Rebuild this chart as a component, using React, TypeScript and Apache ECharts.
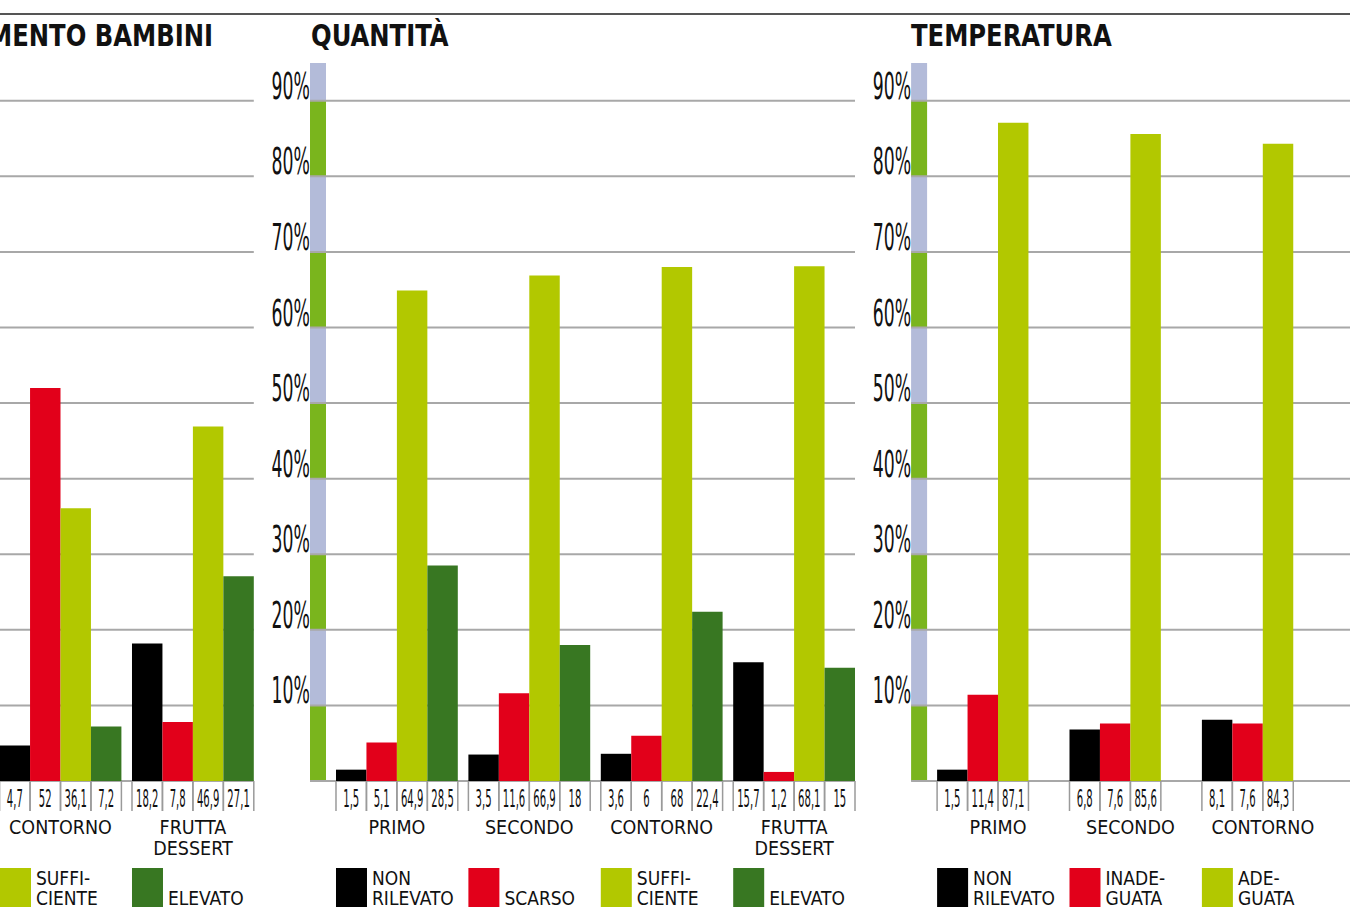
import React, { useEffect, useRef } from 'react';
import * as echarts from 'echarts';

const NARROW = "'Liberation Sans Narrow', 'DejaVu Sans Condensed', 'Arial Narrow', sans-serif";

const BLACK = '#000000';
const RED = '#e2001a';
const LIME = '#b2c800';
const GREEN = '#387722';
const STRIPE_GREEN = '#7ab51d';
const STRIPE_LAV = '#b3bbd9';
const GRID_GRAY = '#a8a8a8';
const BOX_GRAY = '#9a9a9a';
const INK = '#111111';

// ---- data: GRADIMENTO BAMBINI (cropped panel, only last two groups visible)
const gradCats = ['CONTORNO', 'FRUTTA\nDESSERT'];
const gradNonRilevato = [4.7, 18.2];
const gradScarso = [52, 7.8];
const gradSufficiente = [36.1, 46.9];
const gradElevato = [7.2, 27.1];

// ---- data: QUANTITÀ
const quantCats = ['PRIMO', 'SECONDO', 'CONTORNO', 'FRUTTA\nDESSERT'];
const quantNonRilevato = [1.5, 3.5, 3.6, 15.7];
const quantScarso = [5.1, 11.6, 6, 1.2];
const quantSufficiente = [64.9, 66.9, 68, 68.1];
const quantElevato = [28.5, 18, 22.4, 15];

// ---- data: TEMPERATURA
const tempCats = ['PRIMO', 'SECONDO', 'CONTORNO'];
const tempNonRilevato = [1.5, 6.8, 8.1];
const tempInadeguata = [11.4, 7.6, 7.6];
const tempAdeguata = [87.1, 85.6, 84.3];

// ---- axis
const yTicks = [0, 10, 20, 30, 40, 50, 60, 70, 80, 90];
const yTickLabels = ['', '10%', '20%', '30%', '40%', '50%', '60%', '70%', '80%', '90%'];
const stripeBreaks = [0, 10, 20, 30, 40, 50, 60, 70, 80, 90, 95];
const Y_MAX = 95;

const legendText: Record<string, string> = {
  'NON RILEVATO': 'NON\nRILEVATO',
  'SCARSO': '\nSCARSO',
  'SUFFICIENTE': 'SUFFI-\nCIENTE',
  'ELEVATO': '\nELEVATO',
  'INADEGUATA': 'INADE-\nGUATA',
  'ADEGUATA': 'ADE-\nGUATA',
};

// ---- layout
const BAND = 132.4;
const GAP = 0.08;
const SLOTS = 4;
const GRID_TOP = 63;
const GRID_H = 718;
const STRIPE_OFF = 20.7;
const STRIPE_W = 16;

type S = { name: string; color: string; data: number[] };
type Panel = {
  title: string; titleX: number; titleAlign: string;
  gridLeft: number; hidden: number; cats: string[]; series: S[];
  lineEnd: 'bars' | 'edge'; axisDecor: boolean;
};

const panels: Panel[] = [
  {
    title: 'GRADIMENTO BAMBINI', titleX: 213, titleAlign: 'right',
    gridLeft: -5.7, hidden: 2, cats: gradCats, lineEnd: 'bars', axisDecor: false,
    series: [
      { name: 'NON RILEVATO', color: BLACK, data: gradNonRilevato },
      { name: 'SCARSO', color: RED, data: gradScarso },
      { name: 'SUFFICIENTE', color: LIME, data: gradSufficiente },
      { name: 'ELEVATO', color: GREEN, data: gradElevato },
    ],
  },
  {
    title: 'QUANTITÀ', titleX: 311, titleAlign: 'left',
    gridLeft: 330.7, hidden: 0, cats: quantCats, lineEnd: 'bars', axisDecor: true,
    series: [
      { name: 'NON RILEVATO', color: BLACK, data: quantNonRilevato },
      { name: 'SCARSO', color: RED, data: quantScarso },
      { name: 'SUFFICIENTE', color: LIME, data: quantSufficiente },
      { name: 'ELEVATO', color: GREEN, data: quantElevato },
    ],
  },
  {
    title: 'TEMPERATURA', titleX: 911, titleAlign: 'left',
    gridLeft: 931.8, hidden: 0, cats: tempCats, lineEnd: 'edge', axisDecor: true,
    series: [
      { name: 'NON RILEVATO', color: BLACK, data: tempNonRilevato },
      { name: 'INADEGUATA', color: RED, data: tempInadeguata },
      { name: 'ADEGUATA', color: LIME, data: tempAdeguata },
    ],
  },
];

const fmt = (v: number) => String(v).replace('.', ',');

function textEl(
  x: number, y: number, text: string, size: number, align: string,
  scaleX: number, scaleY: number, weight = 'normal',
) {
  return {
    type: 'text', x, y, scaleX, scaleY,
    style: {
      text, fontFamily: NARROW, fontSize: size, fontWeight: weight,
      fill: INK, textFill: INK,
      align, textAlign: align, verticalAlign: 'middle', textVerticalAlign: 'middle',
    },
  };
}

function buildOption() {
  const grid = panels.map(p => ({
    left: p.gridLeft, top: GRID_TOP, width: p.cats.length * BAND, height: GRID_H,
    containLabel: false, outerBoundsMode: 'none',
  }));
  const xAxis = panels.map((p, i) => ({
    type: 'category', gridIndex: i, data: p.cats,
    axisLine: { show: false }, axisTick: { show: false }, splitLine: { show: false },
    axisLabel: {
      interval: 0, margin: 36, fontFamily: NARROW, fontSize: 19.5, lineHeight: 21, color: INK,
    },
  }));
  const yAxis = panels.map((p, i) => ({
    type: 'value', gridIndex: i, min: 0, max: Y_MAX, show: false, splitLine: { show: false },
  }));

  const series: any[] = [];
  const legend: any[] = [];

  panels.forEach((p, i) => {
    const fullLeft = p.gridLeft - p.hidden * BAND;
    const x1 = fullLeft - STRIPE_OFF;

    // stripe along the value axis
    if (p.axisDecor) {
      series.push({
        type: 'custom', xAxisIndex: i, yAxisIndex: i, silent: true, clip: false, z: 1,
        encode: { x: 0, y: [1, 2] },
        data: stripeBreaks.slice(0, -1).map((lo, k) => [0, lo, stripeBreaks[k + 1]]),
        renderItem: (params: any, api: any) => {
          const yLo = api.coord([0, api.value(1)])[1];
          const yHi = api.coord([0, api.value(2)])[1];
          return {
            type: 'rect',
            shape: { x: x1, y: yHi, width: STRIPE_W, height: yLo - yHi },
            style: { fill: params.dataIndex % 2 === 0 ? STRIPE_GREEN : STRIPE_LAV },
          };
        },
      });
    }

    // grid lines + tick labels
    series.push({
      type: 'custom', xAxisIndex: i, yAxisIndex: i, silent: true, clip: false, z: 2,
      encode: { x: 0, y: 1 },
      data: yTicks.map((v, k) => [0, v, k]),
      renderItem: (params: any, api: any) => {
        const y = api.coord([0, api.value(1)])[1];
        const cs = params.coordSys;
        const x2 = p.lineEnd === 'edge' ? api.getWidth() : cs.x + cs.width - GAP / 2 * BAND;
        const children: any[] = [
          { type: 'line', shape: { x1, y1: y, x2, y2: y }, style: { stroke: GRID_GRAY, lineWidth: 2 } },
        ];
        const lab = yTickLabels[api.value(2)];
        if (p.axisDecor && lab) {
          children.push(textEl(x1, y - 14.5, lab, 24, 'right', 0.8, 1.55));
        }
        return { type: 'group', children };
      },
    });

    // bars
    p.series.forEach(s => {
      series.push({
        type: 'bar', name: s.name, xAxisIndex: i, yAxisIndex: i, data: s.data,
        barGap: '0%', barCategoryGap: `${GAP * 100}%`, z: 3, silent: true,
        itemStyle: { color: s.color }, emphasis: { disabled: true },
      });
    });
    // keep an empty fourth slot so that three-bar groups sit left-aligned like the others
    for (let k = p.series.length; k < SLOTS; k++) {
      series.push({
        type: 'bar', name: 'slot' + k, xAxisIndex: i, yAxisIndex: i, data: [],
        barGap: '0%', barCategoryGap: `${GAP * 100}%`, silent: true,
      });
    }

    // value boxes under the axis
    const boxData: number[][] = [];
    p.cats.forEach((_, ci) => p.series.forEach((s, si) => boxData.push([ci, s.data[ci], si])));
    series.push({
      type: 'custom', xAxisIndex: i, yAxisIndex: i, silent: true, clip: false, z: 4,
      encode: { x: 0, y: 1 },
      data: boxData,
      renderItem: (params: any, api: any) => {
        const ci = api.value(0);
        const v = api.value(1);
        const si = api.value(2);
        const c = api.coord([ci, 0]);
        const bw = api.size([1, 0])[0];
        const gw = bw * (1 - GAP);
        const sw = gw / SLOTS;
        const left = c[0] - gw / 2 + si * sw;
        const y0 = c[1];
        return {
          type: 'group',
          children: [
            { type: 'line', shape: { x1: left, y1: y0, x2: left, y2: y0 + 30 }, style: { stroke: BOX_GRAY, lineWidth: 1.5 } },
            { type: 'line', shape: { x1: left + sw, y1: y0, x2: left + sw, y2: y0 + 30 }, style: { stroke: BOX_GRAY, lineWidth: 1.5 } },
            textEl(left + sw / 2, y0 + 17.5, fmt(v), 16, 'center', 0.7, 1.55),
          ],
        };
      },
    });

    // legend: one component per item, aligned with group starts
    p.series.forEach((s, si) => {
      const x = fullLeft + si * BAND + (GAP / 2) * BAND;
      if (x < -20) return;
      legend.push({
        data: [s.name], left: Math.max(0, x), top: 868, orient: 'horizontal',
        itemWidth: 31, itemHeight: 40, itemGap: 0, padding: 0, icon: 'rect',
        selectedMode: false,
        formatter: (n: string) => legendText[n] || n,
        textStyle: { fontFamily: NARROW, fontSize: 19, lineHeight: 20, color: INK },
      });
    });
  });

  const graphic: any[] = [
    { type: 'line', shape: { x1: 0, y1: 14, x2: 1350, y2: 14 }, style: { stroke: '#555555', lineWidth: 2 } },
    ...panels.map(p => textEl(p.titleX, 36.5, p.title, 30, p.titleAlign, 0.9, 1, 'bold')),
  ];

  return {
    animation: false,
    backgroundColor: '#ffffff',
    grid, xAxis, yAxis, series, legend, graphic,
  };
}

export default function App() {
  const ref = useRef<HTMLDivElement>(null);
  useEffect(() => {
    if (!ref.current) return;
    const chart = echarts.init(ref.current, null, { renderer: 'svg' });
    chart.setOption(buildOption() as any);
    return () => chart.dispose();
  }, []);
  return (
    <div
      ref={ref}
      style={{ position: 'absolute', left: 0, top: 0, width: 1350, height: 907, background: '#fff' }}
    />
  );
}
